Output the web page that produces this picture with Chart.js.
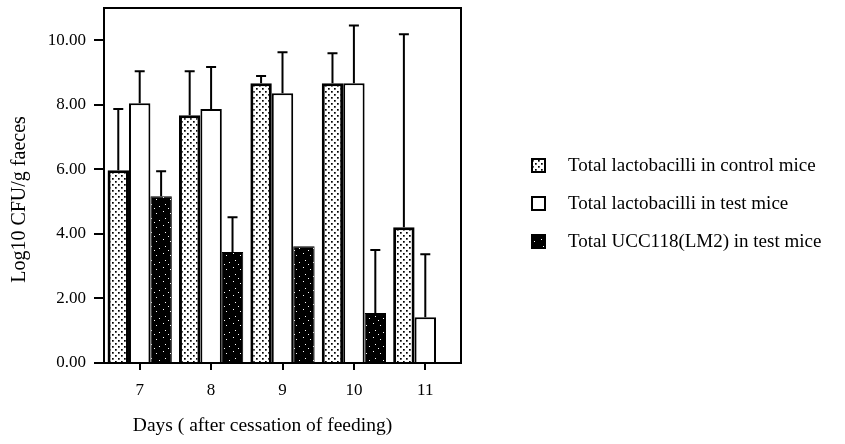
<!DOCTYPE html>
<html>
<head>
<meta charset="utf-8">
<script src="https://cdn.jsdelivr.net/npm/chart.js@4.4.1/dist/chart.umd.min.js"></script>
<style>
  html, body { margin: 0; padding: 0; background: #fff; }
  #wrap { width: 845px; height: 444px; }
</style>
</head>
<body>
<div id="wrap"><canvas id="cfuChart" width="845" height="444"></canvas></div>
<script>
// values (log10 CFU/g faeces), error = upper SD only
const days = ['7', '8', '9', '10', '11'];
const controlLacto = [5.97, 7.68, 8.67, 8.67, 4.21];
const controlLactoErr = [1.9, 1.36, 0.22, 0.93, 5.98];
const testLacto = [8.05, 7.87, 8.36, 8.67, 1.42];
const testLactoErr = [0.99, 1.3, 1.27, 1.79, 1.95];
const ucc118 = [5.17, 3.44, 3.62, 1.55, 0];
const ucc118Err = [0.77, 1.08, 0, 1.95, 0];
const seriesNames = [
    'Total lactobacilli in control mice',
    'Total lactobacilli in test mice',
    'Total UCC118(LM2) in test mice'
];
const yTicks = [0, 2, 4, 6, 8, 10];
const xTitle = 'Days ( after cessation of feeding)';
const yTitle = 'Log10 CFU/g faeces';

const serif = '"Liberation Serif", "Times New Roman", serif';

function makeDots() {
    const c = document.createElement('canvas');
    c.width = 6; c.height = 6;
    const g = c.getContext('2d');
    g.fillStyle = '#fff';
    g.fillRect(0, 0, 6, 6);
    g.fillStyle = '#000';
    g.fillRect(1, 1, 1.7, 1.7);
    g.fillRect(4, 4, 1.7, 1.7);
    return document.getElementById('cfuChart').getContext('2d').createPattern(c, 'repeat');
}

function makeSpeckle() {
    const c = document.createElement('canvas');
    c.width = 14; c.height = 14;
    const g = c.getContext('2d');
    g.fillStyle = '#000';
    g.fillRect(0, 0, 14, 14);
    g.fillStyle = '#fff';
    const spots = [[2, 3], [9, 1], [11, 8], [5, 10], [0, 12]];
    spots.forEach(p => g.fillRect(p[0], p[1], 1, 1));
    return document.getElementById('cfuChart').getContext('2d').createPattern(c, 'repeat');
}

const dotFill = makeDots();
const speckleFill = makeSpeckle();
const errs = [controlLactoErr, testLactoErr, ucc118Err];

const errorBars = {
    id: 'errorBars',
    afterDatasetsDraw(chart) {
        const ctx = chart.ctx;
        const y = chart.scales.y;
        ctx.save();
        ctx.strokeStyle = '#000';
        ctx.lineWidth = 2;
        chart.data.datasets.forEach((ds, i) => {
            const meta = chart.getDatasetMeta(i);
            meta.data.forEach((bar, j) => {
                const e = errs[i][j];
                if (!e) return;
                const top = y.getPixelForValue(ds.data[j] + e);
                ctx.beginPath();
                ctx.moveTo(bar.x, bar.y);
                ctx.lineTo(bar.x, top);
                ctx.moveTo(bar.x - 5, top);
                ctx.lineTo(bar.x + 5, top);
                ctx.stroke();
            });
        });
        ctx.restore();
    }
};

const frameAndLegend = {
    id: 'frameAndLegend',
    afterDraw(chart) {
        const ctx = chart.ctx;
        const a = chart.chartArea;
        ctx.save();
        ctx.strokeStyle = '#000';
        ctx.lineWidth = 2;
        ctx.strokeRect(a.left, a.top, a.right - a.left, a.bottom - a.top);

        // axis titles, placed a little off-centre as in the original
        ctx.fillStyle = '#000';
        ctx.font = '19.5px ' + serif;
        ctx.textAlign = 'center';
        ctx.textBaseline = 'middle';
        ctx.fillText(xTitle, (a.left + a.right) / 2 - 20, 426);

        ctx.save();
        ctx.translate(20, (a.top + a.bottom) / 2 + 14);
        ctx.rotate(-Math.PI / 2);
        ctx.font = '20px ' + serif;
        ctx.fillText(yTitle, 0, 0);
        ctx.restore();

        const rows = [165, 203, 241];
        ctx.font = '19px ' + serif;
        ctx.textAlign = 'left';
        chart.data.datasets.forEach((ds, i) => {
            const yy = rows[i];
            ctx.fillStyle = ds.backgroundColor;
            ctx.fillRect(532, yy - 6, 13, 13);
            ctx.lineWidth = 2;
            ctx.strokeStyle = '#000';
            ctx.strokeRect(532, yy - 6, 13, 13);
            ctx.fillStyle = '#000';
            ctx.fillText(ds.label, 568, yy + 1);
        });
        ctx.restore();
    }
};

new Chart(document.getElementById('cfuChart'), {
    type: 'bar',
    data: {
        labels: days,
        datasets: [
            { label: seriesNames[0], data: controlLacto, backgroundColor: dotFill, borderColor: '#000', borderWidth: 3 },
            { label: seriesNames[1], data: testLacto, backgroundColor: '#fff', borderColor: '#000', borderWidth: 2 },
            { label: seriesNames[2], data: ucc118, backgroundColor: speckleFill, borderColor: '#000', borderWidth: 1 }
        ]
    },
    options: {
        responsive: false,
        animation: false,
        devicePixelRatio: 1,
        layout: { padding: { top: 8, right: 384, left: 0, bottom: 0 } },
        datasets: { bar: { categoryPercentage: 0.9, barPercentage: 1.0 } },
        plugins: { legend: { display: false }, tooltip: { enabled: false } },
        scales: {
            x: {
                offset: true,
                grid: { offset: false, drawOnChartArea: false, drawTicks: true, tickLength: 7, color: '#000', lineWidth: 2 },
                border: { display: true, color: '#000', width: 2 },
                ticks: { color: '#000', font: { family: serif, size: 17 }, padding: 10 },
                afterFit(scale) { scale.height = 81; scale.paddingLeft = 0; scale.paddingRight = 0; }
            },
            y: {
                min: 0,
                max: 11,
                afterBuildTicks(scale) { scale.ticks = yTicks.map(v => ({ value: v })); },
                grid: { drawOnChartArea: false, drawTicks: true, tickLength: 10, color: '#000', lineWidth: 2 },
                border: { display: true, color: '#000', width: 2 },
                ticks: { color: '#000', font: { family: serif, size: 17 }, padding: 8,
                         callback: v => v.toFixed(2) },
                afterFit(scale) { scale.width = 104; scale.paddingTop = 0; scale.paddingBottom = 0; }
            }
        }
    },
    plugins: [errorBars, frameAndLegend]
});
</script>
</body>
</html>
